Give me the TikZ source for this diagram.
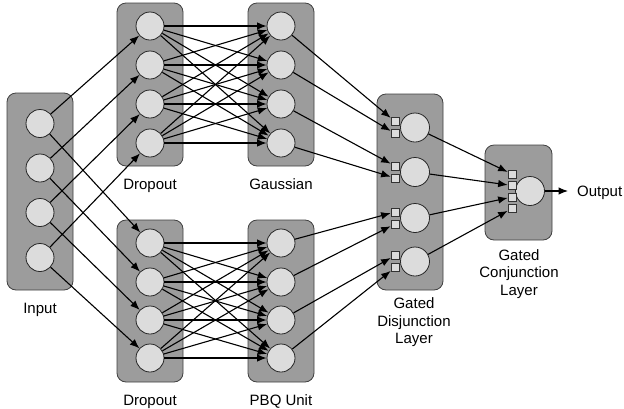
\documentclass[tikz,border=0pt]{standalone}
\usepackage{fontspec}
\setmainfont{Liberation Sans}
\usetikzlibrary{arrows.meta}
\definecolor{boxfill}{RGB}{156,156,156}
\definecolor{boxborder}{RGB}{64,64,64}
\definecolor{unitfill}{RGB}{220,220,220}
\begin{document}
\begin{tikzpicture}[x=1pt,y=-1pt,
  layerbox/.style={draw=boxborder, fill=boxfill, rounded corners=9pt, line width=0.8pt},
  unit/.style={circle, draw=black!85, fill=unitfill, line width=0.8pt, minimum size=28pt, inner sep=0pt},
  bigunit/.style={unit, minimum size=29pt},
  gate/.style={rectangle, draw=black!80, fill=unitfill, minimum size=8pt, inner sep=0pt, line width=0.7pt},
  conn/.style={-{Latex[length=9.5pt,width=7.5pt]}, line width=1.1pt},
  lbl/.style={font=\fontsize{15}{17.3}\selectfont, inner sep=0pt, anchor=base, align=center}]
\useasboundingbox (0,0) rectangle (624,408);
% layer boxes
\draw[layerbox] (7,93) rectangle (73,290);
\draw[layerbox] (117,3) rectangle (183,166);
\draw[layerbox] (248,3) rectangle (314,166);
\draw[layerbox] (117,220) rectangle (183,382);
\draw[layerbox] (248,220) rectangle (314,382);
\draw[layerbox] (377,94) rectangle (443,290);
\draw[layerbox] (485,145) rectangle (552,240);
% units
\foreach \i/\y in {1/123.5,2/168,3/212.5,4/257.5}
  \node[unit] (in\i) at (40,\y) {};
\foreach \i/\y in {1/26,2/65,3/104,4/143} {
  \node[unit] (dt\i) at (150,\y) {};
  \node[unit] (ga\i) at (281,\y) {};
}
\foreach \i/\y in {1/243,2/282,3/320,4/358} {
  \node[unit] (db\i) at (150,\y) {};
  \node[unit] (pb\i) at (281,\y) {};
}
\foreach \i/\y in {1/127.5,2/172,3/218,4/261.5} {
  \node[bigunit] (gd\i) at (415,\y) {};
  \node[gate] (gd\i a) at (395,\y-6) {};
  \node[gate] (gd\i b) at (395,\y+6) {};
}
\node[bigunit] (gc) at (530,191) {};
\foreach \i/\y in {1/174,2/185.5,3/197,4/208.5}
  \node[gate] (gc\i) at (512,\y) {};
\coordinate (out) at (568,191);
% connectors
\foreach \i in {1,...,4} {
  \draw[conn] (in\i) -- (dt\i);
  \draw[conn] (in\i) -- (db\i);
  \foreach \j in {1,...,4} {
    \draw[conn] (dt\i) -- (ga\j);
    \draw[conn] (db\i) -- (pb\j);
  }
  \draw[conn] (gd\i) -- (gc\i);
}
\draw[conn] (ga1) -- (gd1a);
\draw[conn] (ga2) -- (gd1b);
\draw[conn] (ga3) -- (gd2a);
\draw[conn] (ga4) -- (gd2b);
\draw[conn] (pb1) -- (gd3a);
\draw[conn] (pb2) -- (gd3b);
\draw[conn] (pb3) -- (gd4a);
\draw[conn] (pb4) -- (gd4b);
\draw[conn] (gc) -- (out);
% labels
\node[lbl] (linput) at (40,313) {Input};
\node[lbl] (ldt) at (150,189) {Dropout};
\node[lbl] (lga) at (281,189) {Gaussian};
\node[lbl] (ldb) at (150,405) {Dropout};
\node[lbl] (lpb) at (281,405) {PBQ Unit};
\node[lbl] (lgd) at (414,343.5) {Gated\\Disjunction\\Layer};
\node[lbl] (lgc) at (519,295) {Gated\\Conjunction\\Layer};
\node[lbl, anchor=base west] (lout) at (577,196.5) {Output};
\end{tikzpicture}
\end{document}
